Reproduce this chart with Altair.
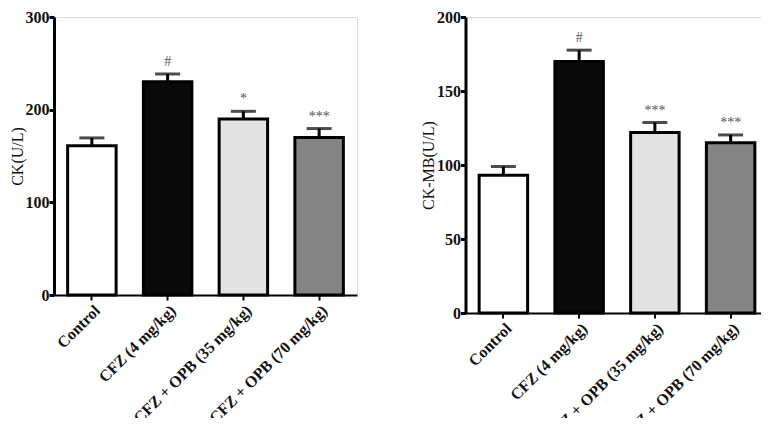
import altair as alt
import pandas as pd

groups = ["Control", "CFZ (4 mg/kg)", "CFZ + OPB (35 mg/kg)", "CFZ + OPB (70 mg/kg)"]
ck_mean = [161, 230, 190, 170]
ck_sd = [8.5, 8.5, 8.2, 9.6]
ck_sig = ["", "#", "*", "***"]
ckmb_mean = [93, 170, 122, 115]
ckmb_sd = [6.0, 7.6, 6.7, 5.3]
ckmb_sig = ["", "#", "***", "***"]
fills = ["#ffffff", "#0a0a0a", "#e2e2e2", "#848484"]

FONT = "Liberation Serif"


def panel(means, sds, sigs, title, ymax, step, h):
    df = pd.DataFrame({
        "group": groups,
        "mean": means,
        "upper": [m + s for m, s in zip(means, sds)],
        "sig": sigs,
    })
    x = alt.X("group:N", sort=groups, title=None,
              scale=alt.Scale(paddingInner=0.36, paddingOuter=0.18),
              axis=alt.Axis(labelAngle=-45, labelFont=FONT, labelFontWeight="bold",
                            labelFontSize=16, labelColor="#111", domainColor="#000",
                            domainWidth=2, tickColor="#000", tickWidth=2, tickSize=5,
                            labelPadding=2, labelLimit=300))
    y = alt.Y("mean:Q", title=title,
              scale=alt.Scale(domain=[0, ymax], nice=False),
              axis=alt.Axis(values=list(range(0, ymax + 1, step)), grid=False,
                            labelFont=FONT, labelFontWeight="bold", labelFontSize=16,
                            labelColor="#111", domainColor="#000", domainWidth=3,
                            tickColor="#000", tickWidth=3, tickSize=5, labelPadding=0,
                            titleFont=FONT, titleFontWeight="normal", titleFontSize=16,
                            titleColor="#111", titlePadding=0))
    base = alt.Chart(df)
    bars = base.mark_bar(stroke="#000", strokeWidth=3).encode(
        x=x, y=y,
        fill=alt.Fill("group:N", sort=groups, legend=None,
                      scale=alt.Scale(domain=groups, range=fills)))
    err = base.mark_rule(color="#000", strokeWidth=3).encode(
        x=alt.X("group:N", sort=groups), y="mean:Q", y2="upper:Q")
    cap = base.mark_tick(color="#000", thickness=3, size=25, orient="horizontal").encode(
        x=alt.X("group:N", sort=groups), y="upper:Q")
    txt = base.mark_text(font=FONT, fontSize=14, color="#555", dy=-12,
                         baseline="middle").encode(
        x=alt.X("group:N", sort=groups), y="upper:Q", text="sig:N")
    return alt.layer(bars, err, cap, txt).properties(width=303, height=h)


left = panel(ck_mean, ck_sd, ck_sig, "CK(U/L)", 300, 100, 278)
right = panel(ckmb_mean, ckmb_sd, ckmb_sig, "CK-MB(U/L)", 200, 50, 296)

chart = alt.hconcat(left, right, spacing=61.5).properties(
    padding={"left": 0, "top": 0, "right": -8, "bottom": -27}
).configure_view(stroke=None).configure(background="white")

chart.save("out.html", embed_options={"renderer": "svg", "actions": False})
